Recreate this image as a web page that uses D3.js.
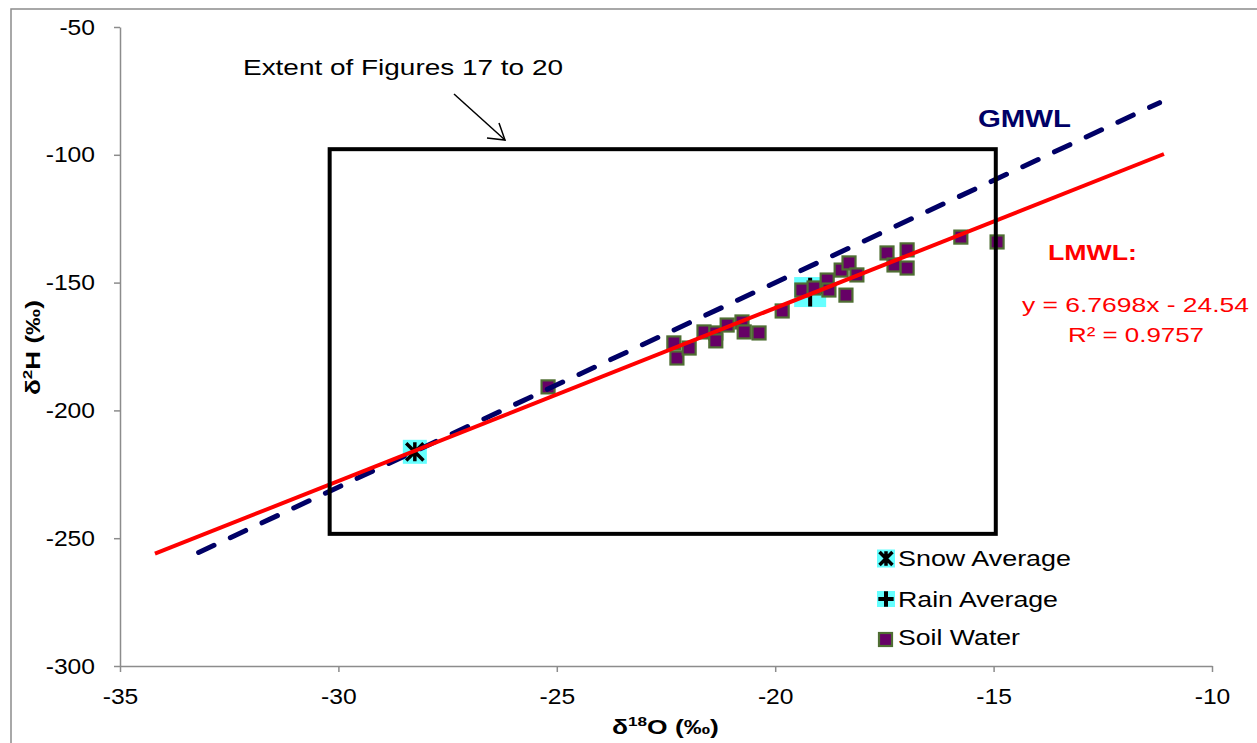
<!DOCTYPE html>
<html>
<head>
<meta charset="utf-8">
<script src="https://cdn.jsdelivr.net/npm/d3@7"></script>
<style>
  html, body { margin: 0; padding: 0; background: #fff; }
  svg { display: block; font-family: "Liberation Sans", Arial, sans-serif; }
</style>
</head>
<body>
<svg id="chart" width="1257" height="743"></svg>
<script>
// Axis ticks
const xTicks = [-35, -30, -25, -20, -15, -10];
const yTicks = [-50, -100, -150, -200, -250, -300];

// Soil water samples: δ18O (‰), δ2H (‰)
const soilO18 = [-25.20, -22.32, -22.25, -21.97, -21.63, -21.36, -21.36, -21.10, -20.76, -20.71,
                 -20.37, -19.84, -19.39, -19.11, -18.81, -18.77, -18.49, -18.31, -18.13, -18.38,
                 -17.44, -17.28, -16.98, -16.98, -15.75, -14.92];
const soilH2  = [-190.8, -173.6, -179.5, -175.6, -169.3, -169.7, -172.8, -166.6, -165.4, -169.3,
                 -169.7, -161.1, -152.9, -152.1, -149.0, -152.9, -145.1, -142.3, -147.0, -154.9,
                 -138.4, -143.1, -137.2, -144.3, -132.2, -134.1];

// Precipitation averages
const snowAvg = { o18: -28.25, h2: -216.2 };
const rainAvg = { o18: -19.20, h2: -153.7 };

// Meteoric water lines: slope, intercept, x extent
const gmwl = { slope: 8, intercept: 10, x0: -33.2, x1: -11.2 };
const lmwl = { slope: 6.7698, intercept: -24.54, x0: -34.2, x1: -11.1 };

// Extent box of figures 17 to 20 (data units)
const extentBox = { x0: -30.2, x1: -14.95, y0: -248.3, y1: -97.8 };

// Legend entries
const legendItems = ["Snow Average", "Rain Average", "Soil Water"];

const svg = d3.select("#chart");

const x = d3.scaleLinear().domain([-35, -10]).range([120, 1212]);
const y = d3.scaleLinear().domain([-300, -50]).range([666, 27]);

// text helper with fixed rendered width
function label(parent, px, py, str, size, width, opts = {}) {
  const t = parent.append("text").attr("x", px).attr("y", py).style("font-size", size + "px").text(str);
  if (width) t.attr("textLength", width).attr("lengthAdjust", "spacingAndGlyphs");
  if (opts.bold) t.style("font-weight", "bold");
  if (opts.fill) t.attr("fill", opts.fill);
  if (opts.anchor) t.attr("text-anchor", opts.anchor);
  return t;
}

// chart frame
svg.append("rect").attr("x", 11).attr("y", 9).attr("width", 1300).attr("height", 800)
  .attr("fill", "none").attr("stroke", "#8c8c8c").attr("stroke-width", 1.5);

// axes
const axisColor = "#8c8c8c";
const gx = svg.append("g").attr("transform", `translate(0,${y(-300)})`)
  .call(d3.axisBottom(x).tickValues(xTicks).tickSize(6).tickSizeOuter(0).tickPadding(13).tickFormat(d => String(d)));
const gy = svg.append("g").attr("transform", `translate(${x(-35)},0)`)
  .call(d3.axisLeft(y).tickValues(yTicks).tickSize(6).tickSizeOuter(0).tickPadding(19).tickFormat(d => String(d)));
[gx, gy].forEach(g => {
  g.select(".domain").attr("stroke", axisColor).attr("stroke-width", 1.5);
  g.selectAll(".tick line").attr("stroke", axisColor).attr("stroke-width", 1.5);
  g.selectAll(".tick text").attr("fill", "#000").style("font-size", "22px")
    .style("font-family", "'Liberation Sans', Arial, sans-serif")
    .each(function () {
      const w = this.getComputedTextLength();
      d3.select(this).attr("textLength", w * 1.12).attr("lengthAdjust", "spacingAndGlyphs");
    });
});
gx.selectAll(".tick text").attr("dy", "0.88em");

// axis titles
const xt = svg.append("text").attr("x", 612).attr("y", 734)
  .style("font-size", "20px").style("font-weight", "bold");
xt.append("tspan").text("δ");
xt.append("tspan").text("18").style("font-size", "13px").attr("dy", -8);
xt.append("tspan").text("O (‰)").attr("dy", 8);
{
  const w = xt.node().getComputedTextLength();
  xt.attr("transform", `translate(612,0) scale(${107 / w},1) translate(-612,0)`);
}

const yt = svg.append("text").attr("x", 0).attr("y", 0)
  .style("font-size", "20px").style("font-weight", "bold");
yt.append("tspan").text("δ");
yt.append("tspan").text("2").style("font-size", "13px").attr("dy", -8);
yt.append("tspan").text("H (‰)").attr("dy", 8);
{
  const w = yt.node().getComputedTextLength();
  yt.attr("transform", `translate(40,395) rotate(-90) scale(${95 / w},1)`);
}

const plot = svg.append("g");

// snow average marker: cyan square with asterisk
function snowMarker(g, cx, cy, s) {
  g.append("rect").attr("x", cx - s / 2).attr("y", cy - s / 2).attr("width", s).attr("height", s).attr("fill", "#66ffff");
  const a = s * 0.36;
  g.append("path").attr("d", `M${cx - a},${cy - a}L${cx + a},${cy + a}M${cx - a},${cy + a}L${cx + a},${cy - a}M${cx},${cy - a * 1.1}L${cx},${cy + a * 1.1}`)
    .attr("stroke", "#000").attr("stroke-width", 3.5);
}
// rain average marker: cyan square with plus
function rainMarker(g, cx, cy, w, h) {
  g.append("rect").attr("x", cx - w / 2).attr("y", cy - h / 2).attr("width", w).attr("height", h).attr("fill", "#66ffff");
  const a = h * 0.48;
  g.append("path").attr("d", `M${cx - a},${cy}L${cx + a},${cy}M${cx},${cy - a}L${cx},${cy + a}`)
    .attr("stroke", "#000").attr("stroke-width", 4);
}
function soilMarker(g, cx, cy, s) {
  g.append("rect").attr("x", cx - s / 2).attr("y", cy - s / 2).attr("width", s).attr("height", s)
    .attr("fill", "#660066").attr("stroke", "#4f6e33").attr("stroke-width", 2.2);
}

snowMarker(plot, x(snowAvg.o18), y(snowAvg.h2), 24);
rainMarker(plot, x(rainAvg.o18), y(rainAvg.h2), 32, 30);

const soil = soilO18.map((o, i) => ({ o18: o, h2: soilH2[i] }));
soil.forEach(d => soilMarker(plot, x(d.o18), y(d.h2), 13));

// water lines
const line = d3.line().x(d => x(d[0])).y(d => y(d[1]));
const lineData = l => [[l.x0, l.slope * l.x0 + l.intercept], [l.x1, l.slope * l.x1 + l.intercept]];
plot.append("path").attr("d", line(lineData(gmwl))).attr("fill", "none")
  .attr("stroke", "#000066").attr("stroke-width", 5).attr("stroke-linecap", "round")
  .attr("stroke-dasharray", "17,18");
plot.append("path").attr("d", line(lineData(lmwl))).attr("fill", "none")
  .attr("stroke", "#ff0000").attr("stroke-width", 4);

// extent box
plot.append("rect")
  .attr("x", x(extentBox.x0)).attr("y", y(extentBox.y1))
  .attr("width", x(extentBox.x1) - x(extentBox.x0)).attr("height", y(extentBox.y0) - y(extentBox.y1))
  .attr("fill", "none").attr("stroke", "#000").attr("stroke-width", 4);

// annotation
label(svg, 243, 75, "Extent of Figures 17 to 20", 22, 320);
svg.append("path").attr("d", "M454,94L505,140").attr("stroke", "#000").attr("stroke-width", 1.5);
svg.append("path").attr("d", "M487,138L505,140L499,123").attr("stroke", "#000").attr("stroke-width", 1.5).attr("fill", "none");

label(svg, 978, 127, "GMWL", 24, 93, { bold: true, fill: "#000066" });
label(svg, 1048, 260, "LMWL:", 22, 89, { bold: true, fill: "#ff0000" });
label(svg, 1022, 312, "y = 6.7698x - 24.54", 21, 227, { fill: "#ff0000" });
label(svg, 1068, 342, "R² = 0.9757", 21, 136, { fill: "#ff0000" });

// legend
const legend = svg.append("g");
const legendY = [558.5, 599, 639.5];
const legendW = [173, 160, 122];
snowMarker(legend, 886, legendY[0], 18);
rainMarker(legend, 886, legendY[1], 18, 16);
soilMarker(legend, 885.5, legendY[2], 13);
legendItems.forEach((t, i) => {
  label(legend, 898, [566, 607, 645][i], t, 22, legendW[i]);
});
</script>
</body>
</html>
